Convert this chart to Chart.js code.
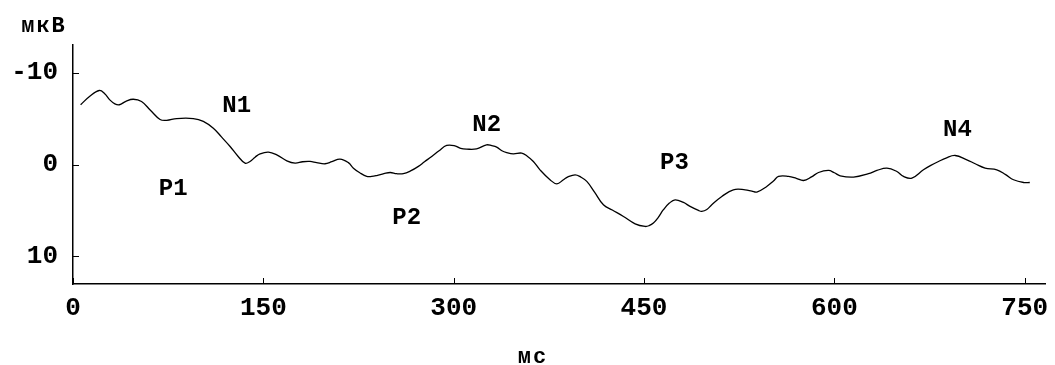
<!DOCTYPE html>
<html>
<head>
<meta charset="utf-8">
<script src="https://cdn.jsdelivr.net/npm/chart.js@4"></script>
<style>
  html, body { margin: 0; padding: 0; background: #fff; }
  #wrap { width: 1055px; height: 365px; }
</style>
</head>
<body>
<div id="wrap"><canvas id="erp_chart" width="1055" height="365"></canvas></div>
<script>
// time, ms
var times = [6, 13, 20.7, 25, 29.2, 33, 36.5, 42, 47.5, 54, 61, 68.6, 73.8, 81.7, 94.8, 102.7, 110.6, 117, 123.8, 130,
    135.6, 139.5, 143.5, 147.4, 154, 160.6, 168.5, 175, 181, 186.8, 192, 198.6, 204, 210.4, 217, 221, 226, 231.5, 235.4, 239.4,
    245, 250, 255, 260.3, 266, 272.2, 277, 282.7, 288.5, 294.5, 301, 305.5, 310.3, 318, 325.9, 330, 333.9, 338, 341.8, 347,
    353.6, 358, 362.8, 368, 375.9, 381.3, 386.5, 390, 395.7, 400, 404.9, 411, 418, 425, 433.8, 443, 450.9, 454, 457.4, 461,
    465.3, 470, 474.5, 481.1, 486.3, 492.9, 495.5, 499.5, 503.4, 511.3, 520.4, 529.7, 535, 538.9, 546.7, 552, 556, 563.9, 570, 575.7,
    582, 587.5, 595.4, 600, 604.6, 615.1, 626.9, 633.5, 641.4, 649.3, 654.5, 661.1, 670.2, 676, 682.1, 688, 695.2, 704.4, 711, 718.8,
    728, 735, 741.2, 749.3, 754];
// amplitude, uV (negative up)
var amps = [-6.5, -7.4, -8.05, -7.7, -7.0, -6.6, -6.5, -6.9, -7.1, -6.85, -5.9, -4.9, -4.8, -5.0, -5.0, -4.7, -3.95, -3.0, -1.96, -0.9,
    -0.15, -0.33, -0.8, -1.16, -1.35, -1.05, -0.4, -0.15, -0.3, -0.33, -0.2, -0.08, -0.3, -0.59, -0.2, 0.4, 0.9, 1.3, 1.3, 1.2,
    1.0, 0.87, 1.0, 1.0, 0.7, 0.2, -0.3, -0.87, -1.5, -2.07, -2.03, -1.75, -1.67, -1.7, -2.14, -2.05, -1.89, -1.5, -1.3, -1.16,
    -1.24, -0.9, -0.33, 0.58, 1.66, 2.1, 1.66, 1.35, 1.12, 1.35, 1.84, 3.0, 4.38, 4.95, 5.65, 6.45, 6.74, 6.65, 6.37, 5.8,
    4.92, 4.2, 3.84, 4.13, 4.56, 5.0, 5.1, 4.9, 4.38, 3.48, 2.75, 2.75, 2.9, 3.0, 2.39, 1.8, 1.3, 1.3, 1.5, 1.74,
    1.35, 0.87, 0.65, 0.9, 1.23, 1.37, 1.0, 0.65, 0.39, 0.76, 1.3, 1.48, 0.58, 0.1, -0.33, -0.7, -0.98, -0.51, -0.08, 0.39,
    0.58, 1.1, 1.66, 1.96, 1.96];
var xTicks = [0, 150, 300, 450, 600, 750];
var yTicks = [-10, 0, 10];
var peakNames = ["N1", "P1", "N2", "P2", "P3", "N4"];
var peakTimes = [129, 79, 326, 263, 474, 697];
var peakAmps = [-6.4, 2.7, -4.3, 5.8, -0.15, -3.75];

var FONT = "'Liberation Mono', 'DejaVu Sans Mono', monospace";

var points = [];
times.forEach(function(t, i) {
    points.push({ x: t, y: amps[i] });
});

var extras = {
    id: 'extras',
    afterDraw: function(chart) {
        var c = chart.ctx;
        var xs = chart.scales.x, ys = chart.scales.y;
        c.save();
        c.strokeStyle = '#000';
        c.lineWidth = 1;
        // inward ticks
        xTicks.forEach(function(v) {
            var px = Math.round(xs.getPixelForValue(v)) + 0.5;
            c.beginPath(); c.moveTo(px, ys.bottom); c.lineTo(px, ys.bottom - 6); c.stroke();
        });
        yTicks.forEach(function(v) {
            var py = Math.round(ys.getPixelForValue(v)) + 0.5;
            c.beginPath(); c.moveTo(xs.left, py); c.lineTo(xs.left + 6, py); c.stroke();
        });
        c.fillStyle = '#000';
        c.textAlign = 'center';
        c.textBaseline = 'middle';
        c.font = "bold 24px " + FONT;
        peakNames.forEach(function(n, i) {
            c.fillText(n, xs.getPixelForValue(peakTimes[i]), ys.getPixelForValue(peakAmps[i]));
        });
        c.font = "bold 22px " + FONT;
        c.letterSpacing = "2px";
        c.textBaseline = 'alphabetic';
        c.fillText("мкВ", 44, 32);
        c.fillText("мс", 533, 363);
        c.restore();
    }
};

var ctx = document.getElementById('erp_chart');
var chart = new Chart(ctx, {
    type: 'line',
    data: {
        datasets: [{
            data: points,
            borderColor: '#000',
            borderWidth: 1.3,
            pointRadius: 0,
            fill: false,
            tension: 0.4
        }]
    },
    options: {
        responsive: false,
        animation: false,
        layout: { padding: { left: 0, top: 45, right: 10, bottom: 0 } },
        plugins: { legend: { display: false }, tooltip: { enabled: false } },
        scales: {
            x: {
                type: 'linear',
                min: 0,
                max: 766,
                afterBuildTicks: function(s) { s.ticks = xTicks.map(function(v) { return { value: v }; }); },
                afterFit: function(s) { s.height = 81; s.paddingLeft = 0; s.paddingRight = 0; },
                grid: { display: false, drawTicks: false },
                border: { display: true, color: '#000', width: 1.5 },
                ticks: { color: '#000', padding: 9, maxRotation: 0, font: { family: FONT, size: 26, weight: 'bold' } }
            },
            y: {
                type: 'linear',
                min: -13,
                max: 13,
                reverse: true,
                afterBuildTicks: function(s) { s.ticks = yTicks.map(function(v) { return { value: v }; }); },
                afterFit: function(s) { s.width = 73; s.paddingTop = 0; s.paddingBottom = 0; },
                grid: { display: false, drawTicks: false },
                border: { display: true, color: '#000', width: 1.5 },
                ticks: { color: '#000', padding: 15, font: { family: FONT, size: 26, weight: 'bold' } }
            }
        }
    },
    plugins: [extras]
});
</script>
</body>
</html>
